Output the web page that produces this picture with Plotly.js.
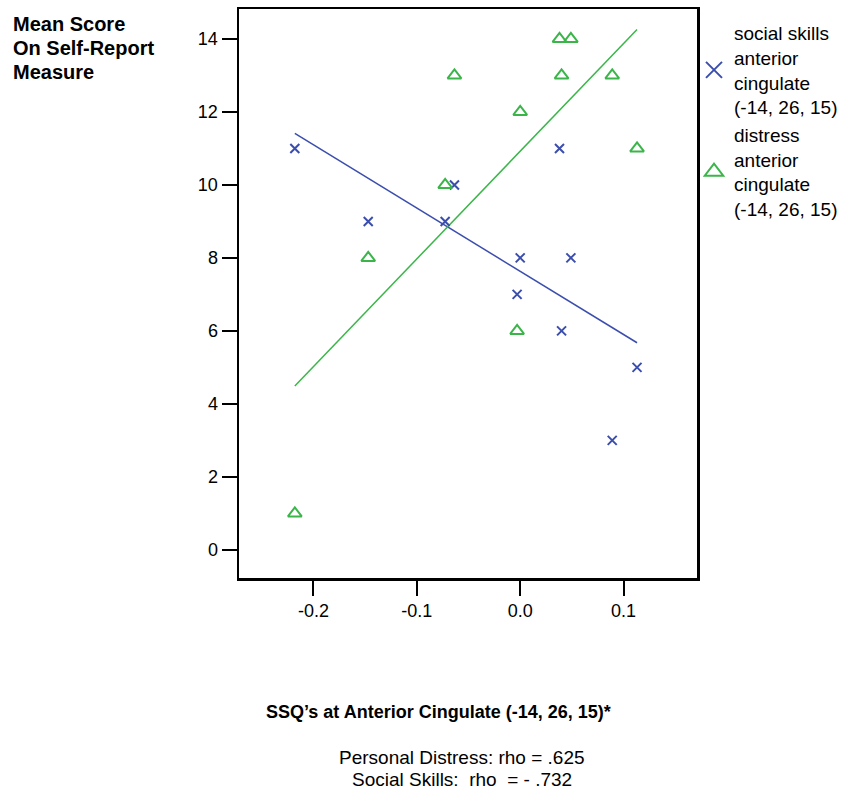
<!DOCTYPE html>
<html>
<head>
<meta charset="utf-8">
<script src="https://cdn.plot.ly/plotly-3.0.1.min.js"></script>
<style>html,body{margin:0;padding:0;background:#fff;}#chart{width:846px;height:794px;}</style>
</head>
<body>
<div id="chart"></div>
<script>
// Data
var ssqX = [-0.218, -0.147, -0.0726, -0.0636, -0.003, 0.0, 0.038, 0.040, 0.049, 0.089, 0.113];
var socialSkills = [11, 9, 9, 10, 7, 8, 11, 6, 8, 3, 5];
var distress = [1, 8, 10, 13, 6, 12, 14, 13, 14, 13, 11];
var xTickVals = [-0.2, -0.1, 0.0, 0.1];
var xTickText = ['-0.2', '-0.1', '0.0', '0.1'];
var yTickVals = [0, 2, 4, 6, 8, 10, 12, 14];
var legendNames = ['social skills<br>anterior<br>cingulate<br>(-14, 26, 15)',
                   'distress<br>anterior<br>cingulate<br>(-14, 26, 15)'];

var BLUE = '#3b4eae';
var GREEN = '#3bb54a';
var FONT = 'Liberation Sans, Arial, Helvetica, sans-serif';

function olsLine(xs, ys) {
  var n = xs.length, mx = 0, my = 0;
  for (var i = 0; i < n; i++) { mx += xs[i]; my += ys[i]; }
  mx /= n; my /= n;
  var sxx = 0, sxy = 0;
  for (var j = 0; j < n; j++) { sxx += (xs[j]-mx)*(xs[j]-mx); sxy += (xs[j]-mx)*(ys[j]-my); }
  var b = sxy / sxx, a = my - b * mx;
  var x0 = Math.min.apply(null, xs), x1 = Math.max.apply(null, xs);
  return {x: [x0, x1], y: [a + b * x0, a + b * x1]};
}
var fitSS = olsLine(ssqX, socialSkills);
var fitD = olsLine(ssqX, distress);

var traces = [
  {x: fitSS.x, y: fitSS.y, mode: 'lines', line: {color: BLUE, width: 1.5}, showlegend: false, hoverinfo: 'skip'},
  {x: fitD.x, y: fitD.y, mode: 'lines', line: {color: GREEN, width: 1.5}, showlegend: false, hoverinfo: 'skip'},
  {x: ssqX, y: socialSkills, mode: 'markers', showlegend: false,
   marker: {symbol: 'x-thin-open', size: 9, color: BLUE, line: {color: BLUE, width: 2}}},
  {x: ssqX, y: distress, mode: 'markers', showlegend: false,
   marker: {symbol: 'triangle-up-open', size: 12, color: GREEN, line: {color: GREEN, width: 2}}},
  {x: [null], y: [null], mode: 'markers', name: legendNames[0],
   marker: {symbol: 'x-thin-open', size: 16, color: BLUE, line: {color: BLUE, width: 2}}},
  {x: [null], y: [null], mode: 'markers', name: legendNames[1],
   marker: {symbol: 'triangle-up-open', size: 16, color: GREEN, line: {color: GREEN, width: 2}}}
];

function pxX(px) { return (px - 239) / 458; }
function pxY(py) { return (578 - py) / 569; }

var layout = {
  width: 846, height: 794,
  margin: {l: 239, r: 149, t: 9, b: 216, autoexpand: false},
  paper_bgcolor: '#fff', plot_bgcolor: '#fff',
  font: {family: FONT, size: 18, color: '#000'},
  xaxis: {
    range: [-0.272, 0.171], tickvals: xTickVals, ticktext: xTickText,
    ticks: 'outside', ticklen: 15, tickwidth: 2, tickcolor: '#000',
    showline: true, linecolor: '#000', linewidth: 2.5, mirror: true,
    showgrid: false, zeroline: false, tickfont: {size: 18}
  },
  yaxis: {
    range: [-0.77, 14.82], tickvals: yTickVals,
    ticks: 'outside', ticklen: 15, tickwidth: 2, tickcolor: '#000',
    showline: true, linecolor: '#000', linewidth: 2.5, mirror: true,
    showgrid: false, zeroline: false, tickfont: {size: 18}
  },
  showlegend: true,
  legend: {x: pxX(694), y: pxY(14), xanchor: 'left', yanchor: 'top',
           font: {size: 19, color: '#000'}, bgcolor: 'rgba(0,0,0,0)', valign: 'middle'},
  annotations: [
    {text: '<b>Mean Score</b>', xref: 'paper', yref: 'paper', x: pxX(11), y: pxY(24), xanchor: 'left', yanchor: 'middle', showarrow: false, font: {size: 20}},
    {text: '<b>On Self-Report</b>', xref: 'paper', yref: 'paper', x: pxX(11), y: pxY(48), xanchor: 'left', yanchor: 'middle', showarrow: false, font: {size: 20}},
    {text: '<b>Measure</b>', xref: 'paper', yref: 'paper', x: pxX(11), y: pxY(72), xanchor: 'left', yanchor: 'middle', showarrow: false, font: {size: 20}},
    {text: "<b>SSQ’s at Anterior Cingulate (-14, 26, 15)*</b>", xref: 'paper', yref: 'paper', x: pxX(438), y: pxY(712), xanchor: 'center', yanchor: 'middle', showarrow: false, font: {size: 18}},
    {text: 'Personal Distress: rho = .625', xref: 'paper', yref: 'paper', x: pxX(462), y: pxY(757), xanchor: 'center', yanchor: 'middle', showarrow: false, font: {size: 19}},
    {text: 'Social Skills:&nbsp; rho&nbsp; = - .732', xref: 'paper', yref: 'paper', x: pxX(462), y: pxY(779), xanchor: 'center', yanchor: 'middle', showarrow: false, font: {size: 19}}
  ]
};

Plotly.newPlot('chart', traces, layout, {displayModeBar: false, staticPlot: true});
</script>
</body>
</html>
